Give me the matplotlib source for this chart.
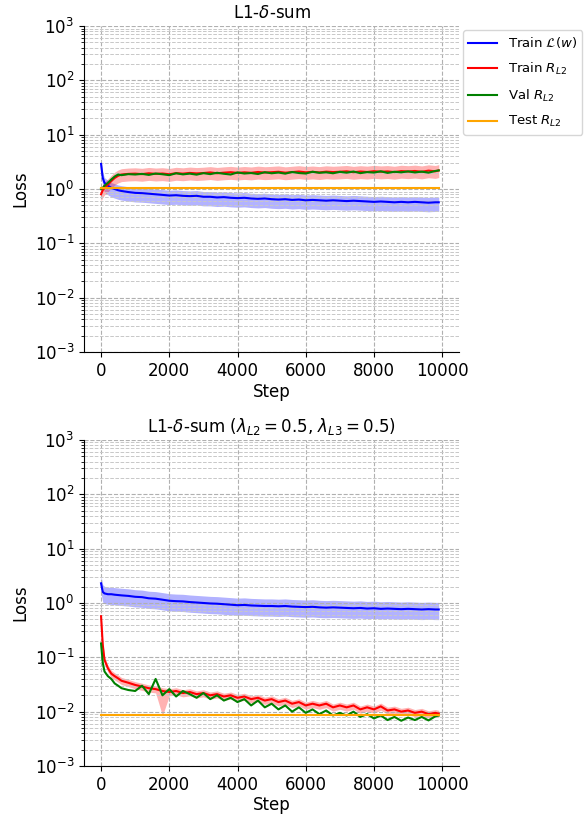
import numpy as np
import matplotlib
matplotlib.use('Agg')
import matplotlib.pyplot as plt
from matplotlib.ticker import LogLocator, NullFormatter

# training steps (x values)
steps = [0, 50, 100, 200, 300, 400, 500, 600, 800] + list(range(1000, 9801, 200)) + [9900]

# ---- top panel: L1-delta-sum ----
train_loss_top = [2.9, 1.6, 1.3, 1.15, 1.05, 1.0, 0.95, 0.92, 0.88,
                  0.85, 0.84, 0.82, 0.80, 0.78, 0.76, 0.77, 0.75, 0.74, 0.75,
                  0.72, 0.72, 0.70, 0.71, 0.69, 0.68, 0.69, 0.67, 0.66, 0.67,
                  0.65, 0.64, 0.65, 0.63, 0.64, 0.62, 0.63, 0.62, 0.61, 0.62,
                  0.61, 0.60, 0.61, 0.60, 0.59, 0.58, 0.59, 0.58, 0.57, 0.58,
                  0.57, 0.58, 0.57, 0.56, 0.57,
                  0.57]
train_r_top = [0.8, 0.95, 1.05, 1.2, 1.4, 1.6, 1.75, 1.85, 1.9,
               1.92, 1.88, 1.95, 1.90, 1.93, 1.87, 1.96, 1.92, 1.98, 1.94,
               1.97, 2.02, 1.95, 2.00, 2.04, 1.98, 2.03, 1.99, 2.06, 2.01,
               2.04, 2.08, 2.00, 2.05, 2.10, 2.03, 2.07, 2.02, 2.09, 2.05,
               2.08, 2.12, 2.04, 2.10, 2.06, 2.13, 2.08, 2.11, 2.05, 2.14,
               2.10, 2.15, 2.08, 2.18, 2.12,
               2.2]
val_r_top = [1.0, 1.05, 1.15, 1.3, 1.5, 1.7, 1.85, 1.8, 1.88,
             1.85, 1.90, 1.82, 1.93, 1.87, 1.80, 1.95, 1.86, 1.92, 1.84,
             1.96, 1.88, 1.99, 1.91, 1.85, 2.02, 1.93, 1.97, 1.89, 2.04,
             1.95, 2.01, 1.92, 2.06, 1.97, 1.93, 2.08, 1.99, 2.03, 1.95,
             2.07, 2.00, 2.10, 1.96, 2.05, 2.01, 2.12, 1.98, 2.08, 2.03,
             2.11, 2.02, 2.09, 2.00, 2.15,
             2.2]
test_r_top = 1.05

# ---- bottom panel: lambda_L2 = 0.5, lambda_L3 = 0.5 ----
train_loss_bot = [2.3, 1.6, 1.5, 1.45, 1.45, 1.42, 1.4, 1.38, 1.35,
                  1.30, 1.28, 1.22, 1.20, 1.15, 1.10, 1.08, 1.07, 1.04, 1.02,
                  1.00, 0.98, 0.97, 0.95, 0.93, 0.91, 0.92, 0.90, 0.89, 0.88,
                  0.88, 0.87, 0.88, 0.86, 0.85, 0.84, 0.85, 0.83, 0.82, 0.83,
                  0.82, 0.81, 0.80, 0.81, 0.79, 0.80, 0.78, 0.79, 0.78, 0.77,
                  0.78, 0.77, 0.76, 0.77, 0.76,
                  0.76]
train_r_bot = [0.57, 0.17, 0.09, 0.063, 0.05, 0.045, 0.041, 0.037, 0.034,
               0.031, 0.029, 0.027, 0.026, 0.024, 0.023, 0.024, 0.022, 0.023, 0.021,
               0.022, 0.020, 0.021, 0.019, 0.020, 0.018, 0.019, 0.017, 0.018, 0.016,
               0.017, 0.015, 0.016, 0.014, 0.015, 0.013, 0.014, 0.013, 0.014, 0.012,
               0.013, 0.012, 0.013, 0.011, 0.012, 0.011, 0.0125, 0.0105, 0.011, 0.010,
               0.0105, 0.0095, 0.010, 0.009, 0.0095,
               0.0092]
# relative width of the lower edge of the train R band (dip near step 1800)
train_r_bot_lo = [0.3, 0.2, 0.15, 0.15, 0.15, 0.15, 0.15, 0.15, 0.15,
                  0.15, 0.15, 0.15, 0.15, 0.65, 0.15, 0.15, 0.15, 0.15, 0.15,
                  0.15, 0.15, 0.15, 0.15, 0.15, 0.15, 0.15, 0.15, 0.15, 0.15,
                  0.15, 0.15, 0.15, 0.15, 0.15, 0.15, 0.15, 0.15, 0.15, 0.15,
                  0.15, 0.15, 0.15, 0.15, 0.15, 0.15, 0.15, 0.15, 0.15, 0.15,
                  0.15, 0.15, 0.15, 0.15, 0.15,
                  0.15]
val_r_bot = [0.18, 0.08, 0.055, 0.045, 0.04, 0.033, 0.03, 0.027, 0.025,
             0.024, 0.030, 0.021, 0.040, 0.020, 0.026, 0.019, 0.024, 0.021, 0.018,
             0.022, 0.017, 0.020, 0.016, 0.018, 0.015, 0.017, 0.013, 0.016, 0.012,
             0.014, 0.011, 0.013, 0.010, 0.012, 0.0095, 0.011, 0.009, 0.0105, 0.0085,
             0.0095, 0.0085, 0.0100, 0.0080, 0.0090, 0.0075, 0.0085, 0.0070, 0.0080, 0.0068,
             0.0078, 0.0070, 0.0080, 0.0069, 0.0082,
             0.0085]
test_r_bot = 0.0085

# band ratios (upper, lower)
band_loss_top = (1.25, 0.68)
band_r_top = (1.28, 0.74)
band_loss_bot = (1.35, 0.65)
band_r_bot_hi = 1.15

labels = [r'Train $\mathcal{L}(w)$', r'Train $R_{L2}$', r'Val $R_{L2}$', r'Test $R_{L2}$']
yticks = [1e-3, 1e-2, 1e-1, 1e0, 1e1, 1e2, 1e3]
xticks = [0, 2000, 4000, 6000, 8000, 10000]


def style_axis(ax, title):
    ax.set_yscale('log')
    ax.set_yticks(yticks)
    ax.yaxis.set_minor_locator(LogLocator(base=10, subs=np.arange(2, 10), numticks=20))
    ax.yaxis.set_minor_formatter(NullFormatter())
    ax.set_ylim(1e-3, 1e3)
    ax.set_xticks(xticks)
    ax.set_xlim(-500, 10500)
    ax.grid(True, which='major', linestyle='--', color='#b0b0b0', linewidth=0.8)
    ax.grid(True, which='minor', axis='y', linestyle='--', color='#c8c8c8', linewidth=0.7)
    ax.spines['top'].set_visible(False)
    ax.spines['right'].set_visible(False)
    ax.tick_params(labelsize=12)
    ax.set_xlabel('Step', fontsize=12, labelpad=2)
    ax.set_ylabel('Loss', fontsize=12)
    ax.set_title(title, fontsize=12)


x = np.array(steps)
fig = plt.figure(figsize=(5.85, 8.16), dpi=100)
ax1 = fig.add_axes([0.1436, 0.5686, 0.6414, 0.3995])
ax2 = fig.add_axes([0.1436, 0.0613, 0.6414, 0.3995])

# top
y = np.array(train_loss_top)
ax1.fill_between(x, y * band_loss_top[1], y * band_loss_top[0], color='blue', alpha=0.3, linewidth=0)
ax1.plot(x, y, color='blue', lw=1.5, label=labels[0])
y = np.array(train_r_top)
ax1.fill_between(x, y * band_r_top[1], y * band_r_top[0], color='red', alpha=0.3, linewidth=0)
ax1.plot(x, y, color='red', lw=1.5, label=labels[1])
ax1.plot(x, val_r_top, color='green', lw=1.5, label=labels[2])
ax1.plot(x, np.full(len(x), test_r_top), color='orange', lw=1.5, label=labels[3])
style_axis(ax1, r'L1-$\delta$-sum')
ax1.legend(loc='upper left', bbox_to_anchor=(1.0, 1.0), fontsize=9.5, handlelength=2.2,
           borderaxespad=0.3, labelspacing=0.8, handletextpad=0.8)

# bottom
y = np.array(train_loss_bot)
ax2.fill_between(x, y * band_loss_bot[1], y * band_loss_bot[0], color='blue', alpha=0.3, linewidth=0)
ax2.plot(x, y, color='blue', lw=1.5)
y = np.array(train_r_bot)
ax2.fill_between(x, y * (1 - np.array(train_r_bot_lo)), y * band_r_bot_hi, color='red', alpha=0.3, linewidth=0)
ax2.plot(x, y, color='red', lw=1.5)
ax2.plot(x, val_r_bot, color='green', lw=1.5)
ax2.plot(x, np.full(len(x), test_r_bot), color='orange', lw=1.5)
style_axis(ax2, r'L1-$\delta$-sum ($\lambda_{L2}=0.5$, $\lambda_{L3}=0.5$)')

fig.savefig('out.png', dpi=100)
